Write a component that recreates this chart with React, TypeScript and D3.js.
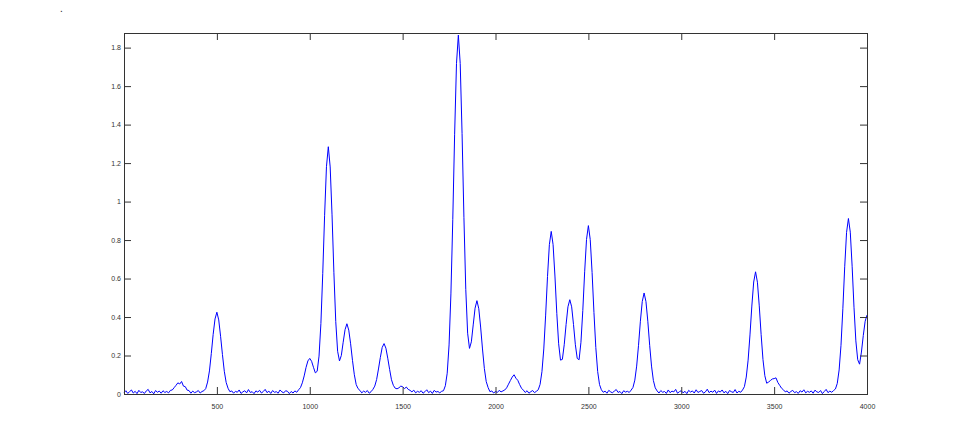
import React, { useEffect, useRef } from "react";
import * as d3 from "d3";

// signal sampled every 10 units, x = 0..4000
const xStep = 10;
const signal = [
  0.006, 0.017, 0.003, 0.012, 0.021, 0.005, 0.014, 0.002, 0.019, 0.008,
  0.011, 0.003, 0.016, 0.024, 0.006, 0.013, 0.001, 0.018, 0.009, 0.015,
  0.004, 0.017, 0.008, 0.013, 0.006, 0.019, 0.021, 0.033, 0.045, 0.058,
  0.052, 0.065, 0.041, 0.038, 0.02, 0.018, 0.004, 0.015, 0.007, 0.011,
  0.018, 0.005, 0.013, 0.017, 0.028, 0.062, 0.12, 0.21, 0.31, 0.39,
  0.425, 0.385, 0.3, 0.205, 0.118, 0.06, 0.03, 0.012, 0.016, 0.004,
  0.014, 0.009, 0.021, 0.003, 0.011, 0.017, 0.006, 0.023, 0.008, 0.012,
  0.002, 0.016, 0.01, 0.019, 0.005, 0.013, 0.024, 0.007, 0.015, 0.003,
  0.018, 0.009, 0.012, 0.004, 0.021, 0.011, 0.006, 0.017, 0.014, 0.002,
  0.013, 0.005, 0.016, 0.009, 0.022, 0.033, 0.058, 0.094, 0.138, 0.172,
  0.185, 0.17, 0.139, 0.11, 0.118, 0.197, 0.366, 0.627, 0.929, 1.181,
  1.285, 1.18, 0.931, 0.63, 0.376, 0.222, 0.172, 0.2, 0.269, 0.334,
  0.365, 0.332, 0.261, 0.175, 0.1, 0.049, 0.028, 0.019, 0.006, 0.015,
  0.009, 0.018, 0.004, 0.012, 0.024, 0.041, 0.075, 0.13, 0.19, 0.242,
  0.262, 0.238, 0.186, 0.128, 0.074, 0.045, 0.03, 0.027, 0.032, 0.041,
  0.038, 0.028, 0.036, 0.024, 0.019, 0.011, 0.02, 0.006, 0.014, 0.009,
  0.017, 0.004, 0.012, 0.022, 0.007, 0.015, 0.003, 0.019, 0.01, 0.013,
  0.006, 0.014, 0.017, 0.043, 0.108, 0.255, 0.52, 0.906, 1.35, 1.717,
  1.865, 1.718, 1.353, 0.916, 0.544, 0.316, 0.237, 0.271, 0.359, 0.446,
  0.485, 0.443, 0.348, 0.234, 0.133, 0.065, 0.034, 0.012, 0.016, 0.005,
  0.013, 0.008, 0.019, 0.011, 0.016, 0.021, 0.032, 0.051, 0.07, 0.088,
  0.1, 0.082, 0.071, 0.049, 0.03, 0.02, 0.008, 0.017, 0.004, 0.012,
  0.018, 0.007, 0.014, 0.022, 0.05, 0.116, 0.234, 0.41, 0.61, 0.776,
  0.845, 0.776, 0.613, 0.419, 0.261, 0.176, 0.18, 0.256, 0.361, 0.453,
  0.49, 0.453, 0.361, 0.256, 0.185, 0.178, 0.269, 0.434, 0.635, 0.803,
  0.875, 0.803, 0.632, 0.424, 0.242, 0.117, 0.049, 0.022, 0.009, 0.015,
  0.004, 0.019, 0.011, 0.006, 0.016, 0.023, 0.008, 0.013, 0.002, 0.017,
  0.01, 0.014, 0.008, 0.02, 0.034, 0.072, 0.145, 0.253, 0.378, 0.48,
  0.525, 0.48, 0.378, 0.253, 0.145, 0.07, 0.032, 0.016, 0.005, 0.018,
  0.009, 0.013, 0.003, 0.021, 0.007, 0.015, 0.011, 0.024, 0.004, 0.012,
  0.017, 0.006, 0.014, 0.002, 0.019, 0.01, 0.016, 0.005, 0.022, 0.008,
  0.013, 0.018, 0.004, 0.011, 0.025, 0.007, 0.015, 0.009, 0.02, 0.003,
  0.016, 0.01, 0.021, 0.006, 0.014, 0.002, 0.018, 0.012, 0.008, 0.023,
  0.005, 0.014, 0.009, 0.021, 0.038, 0.088, 0.176, 0.307, 0.457, 0.582,
  0.635, 0.581, 0.458, 0.31, 0.179, 0.095, 0.056, 0.062, 0.07, 0.078,
  0.08, 0.084, 0.06, 0.045, 0.03, 0.022, 0.011, 0.016, 0.004, 0.013,
  0.019, 0.007, 0.012, 0.003, 0.017, 0.01, 0.022, 0.006, 0.014, 0.009,
  0.016, 0.004, 0.02, 0.011, 0.008, 0.018, 0.002, 0.013, 0.024, 0.007,
  0.015, 0.009, 0.018, 0.026, 0.055, 0.125, 0.253, 0.443, 0.661, 0.84,
  0.912, 0.841, 0.664, 0.451, 0.276, 0.178, 0.155, 0.218, 0.304, 0.378,
  0.41,
];

const xTicks = [500, 1000, 1500, 2000, 2500, 3000, 3500, 4000];
const yTicks = [0, 0.2, 0.4, 0.6, 0.8, 1, 1.2, 1.4, 1.6, 1.8];

const W = 958;
const H = 443;
const box = { left: 124, right: 867, top: 33, bottom: 394 };

const App = () => {
  const svgRef = useRef(null);

  useEffect(() => {
    const svg = d3.select(svgRef.current);
    svg.selectAll("*").remove();

    const x = d3.scaleLinear().domain([0, 4000]).range([box.left, box.right]);
    const y = d3.scaleLinear().domain([0, 1.876]).range([box.bottom, box.top]);

    const pts = signal.map((v, i) => [i * xStep, v]);

    svg
      .append("rect")
      .attr("x", box.left)
      .attr("y", box.top)
      .attr("width", box.right - box.left)
      .attr("height", box.bottom - box.top)
      .attr("fill", "#fff");

    svg
      .append("path")
      .datum(pts)
      .attr("fill", "none")
      .attr("stroke", "#0000ff")
      .attr("stroke-width", 1)
      .attr(
        "d",
        d3
          .line()
          .x((d) => x(d[0]))
          .y((d) => y(d[1]))
      );

    const axisCol = "#333";
    const tk = 7;
    const font = "Liberation Sans, Arial, Helvetica, sans-serif";

    // inward ticks on all four sides, matlab style
    svg
      .append("g")
      .attr("transform", `translate(0,${box.bottom})`)
      .call(d3.axisBottom(x).tickValues(xTicks).tickSize(-tk).tickPadding(tk + 3).tickFormat(d3.format("d")))
      .call((g) => g.select(".domain").remove());
    svg
      .append("g")
      .attr("transform", `translate(0,${box.top})`)
      .call(d3.axisTop(x).tickValues(xTicks).tickSize(-tk).tickFormat(() => ""))
      .call((g) => g.select(".domain").remove());
    svg
      .append("g")
      .attr("transform", `translate(${box.left},0)`)
      .call(d3.axisLeft(y).tickValues(yTicks).tickSize(-tk).tickPadding(3).tickFormat((d) => String(+(+d).toFixed(1))))
      .call((g) => g.select(".domain").remove());
    svg
      .append("g")
      .attr("transform", `translate(${box.right},0)`)
      .call(d3.axisRight(y).tickValues(yTicks).tickSize(-tk).tickFormat(() => ""))
      .call((g) => g.select(".domain").remove());

    svg.selectAll(".tick line").attr("stroke", axisCol);
    svg
      .selectAll(".tick text")
      .attr("fill", axisCol)
      .style("font-family", font)
      .style("font-size", "7px");

    svg
      .append("rect")
      .attr("x", box.left + 0.5)
      .attr("y", box.top + 0.5)
      .attr("width", box.right - box.left)
      .attr("height", box.bottom - box.top)
      .attr("fill", "none")
      .attr("stroke", axisCol)
      .attr("stroke-width", 1);

    svg
      .append("text")
      .attr("x", 60)
      .attr("y", 12)
      .attr("fill", "#222")
      .style("font-family", font)
      .style("font-size", "10px")
      .text(".");
  }, []);

  return (
    <svg
      ref={svgRef}
      width={W}
      height={H}
      style={{ position: "absolute", left: 0, top: 0, background: "#fff" }}
    ></svg>
  );
};

export default App;
